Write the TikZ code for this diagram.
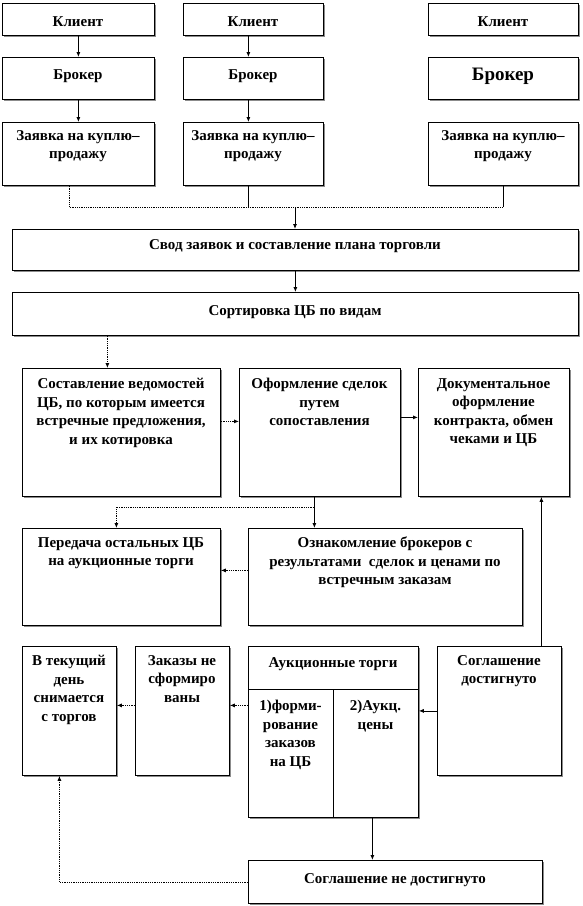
\documentclass[tikz,border=0pt]{standalone}
\usepackage{fontspec}
\setmainfont{Liberation Serif}
\usetikzlibrary{arrows.meta,shadows}
\newcommand\bx[7]{%
  \node[box, anchor=north west, minimum width={(#4-#2)*1pt}, minimum height={(#5-#3)*1pt}] (#1) at (#2,#3) {};
  \node[txt, anchor=north] (#1t) at ({(#2+#4)/2},{#6-8}) {#7};}
\begin{document}
\begin{tikzpicture}[x=1pt,y=-1pt,
  box/.style={draw=black, line width=0.8pt, fill=white, inner sep=0pt,
    drop shadow={shadow xshift=1.5pt, shadow yshift=-1.5pt, fill=black!45, opacity=1}},
  txt/.style={inner sep=0pt, align=center, font=\fontsize{15}{18.5}\selectfont\bfseries, execute at begin node=\strut},
  ln/.style={draw=black, line width=0.8pt},
  dl/.style={draw=black, line width=0.8pt, densely dotted},
  arr/.style={ln, -{Latex[length=5pt,width=4pt]}},
  arrd/.style={dl, -{Latex[length=5pt,width=4pt]}}]
\useasboundingbox (0,0) rectangle (582,906);
% row 1
\bx{k1}{2}{3}{154}{35}{21}{Клиент}
\bx{k2}{183}{3}{323}{35}{21}{Клиент}
\bx{k3}{428}{3}{578}{35}{21}{Клиент}
\bx{b1}{2}{57}{154}{99}{74}{Брокер}
\bx{b2}{183}{57}{323}{99}{74}{Брокер}
\bx{b3}{428}{57}{578}{99}{75}{\fontsize{19}{22}\selectfont\mdseries\bfseries Брокер}
\bx{z1}{2}{122}{154}{185}{138}{Заявка на куплю–\\продажу}
\bx{z2}{183}{122}{323}{185}{138}{Заявка на куплю–\\продажу}
\bx{z3}{428}{122}{578}{185}{138}{Заявка на куплю–\\продажу}
\bx{svod}{12}{229}{578}{270}{244}{Свод заявок и составление плана торговли}
\bx{sort}{12}{292}{578}{335}{310}{Сортировка ЦБ по видам}
\bx{sost}{22}{368}{220}{496}{386}{Составление ведомостей\\ЦБ, по которым имеется\\встречные предложения,\\и их котировка}
\bx{ofs}{239}{368}{400}{496}{386}{Оформление сделок\\путем\\сопоставления}
\bx{doc}{418}{368}{569}{496}{386}{Документальное\\оформление\\контракта, обмен\\чеками и ЦБ}
\bx{per}{22}{528}{220}{625}{545}{Передача остальных ЦБ\\на аукционные торги}
\bx{ozn}{248}{528}{522}{625}{545}{Ознакомление брокеров с\\результатами~ сделок и ценами по\\встречным заказам}
\bx{tek}{22}{646}{116}{775}{663}{В текущий\\день\\снимается\\с торгов}
\bx{zak}{135}{646}{229}{775}{663}{Заказы не\\сформиро\\ваны}
\bx{auc}{248}{646}{418}{817}{662}{Аукционные торги}
\bx{sd}{437}{646}{561}{775}{663}{Соглашение\\достигнуто}
\bx{sn}{248}{860}{542}{903}{878}{Соглашение не достигнуто}
% auction cells
\coordinate (ah) at (248,689);
\coordinate (av) at (333,689);
\draw[ln] (ah) -- (ah -| auc.east);
\draw[ln] (av) -- (av |- auc.south);
\node[txt, anchor=north] (c1) at (290.5,700) {1)форми-\\рование\\заказов\\на ЦБ};
\node[txt, anchor=north] (c2) at (375.5,700) {2)Аукц.\\цены};
% connectors
\draw[arr] (k1.south) -- (b1.north);
\draw[arr] (b1.south) -- (z1.north);
\draw[arr] ([xshift=-5pt]k2.south) -- ([xshift=-5pt]b2.north);
\draw[arr] ([xshift=-5pt]b2.south) -- ([xshift=-5pt]z2.north);
\coordinate (j) at (295,207);
\draw[dl] ([xshift=-9pt]z1.south) |- (z3.south |- j);
\draw[ln] ([xshift=-5pt]z2.south) -- ([xshift=-5pt]z2.south |- j);
\draw[ln] (z3.south) -- (z3.south |- j);
\draw[arr] (j) -- (j |- svod.north);
\draw[arr] (svod.south) -- (sort.north);
\draw[arrd] ([xshift=-14pt]sost.north |- sort.south) -- ([xshift=-14pt]sost.north);
\draw[arrd] ([yshift=11pt]sost.east) -- ([yshift=11pt]sost.east -| ofs.west);
\draw[arr] ([yshift=15pt]ofs.east) -- ([yshift=15pt]ofs.east -| doc.west);
\draw[arr] ([xshift=-5.5pt]ofs.south) -- ([xshift=-5.5pt]ofs.south |- ozn.north);
\coordinate (br) at (314,507);
\draw[arrd] (br) -| ([xshift=-5pt]per.north);
\draw[arrd] ([yshift=6.5pt]ozn.west) -- ([yshift=6.5pt]ozn.west -| per.east);
\draw[arr] ([xshift=42pt]sd.north) -- ([xshift=42pt]sd.north |- doc.south);
\draw[arr] (sd.west) -- (sd.west -| auc.east);
\draw[arrd] ([yshift=26.5pt]auc.west) -- ([yshift=26.5pt]auc.west -| zak.east);
\draw[arrd] ([yshift=5.5pt]zak.west) -- ([yshift=5.5pt]zak.west -| tek.east);
\draw[arr] ([xshift=39pt]auc.south) -- ([xshift=39pt]auc.south |- sn.north);
\draw[arrd] (sn.west) -| ([xshift=-10pt]tek.south);
\end{tikzpicture}
\end{document}
